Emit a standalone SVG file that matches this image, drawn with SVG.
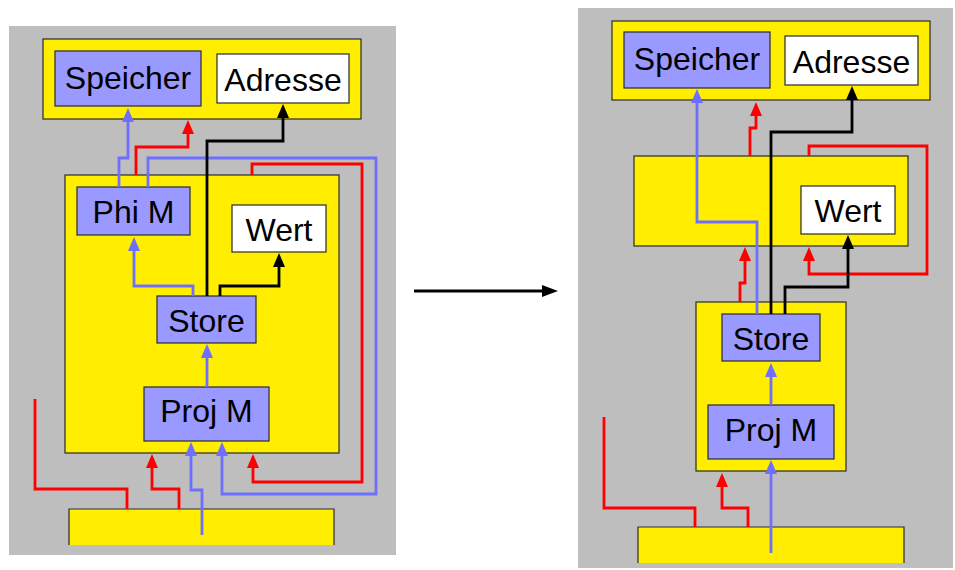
<svg xmlns="http://www.w3.org/2000/svg" width="955" height="570" viewBox="0 0 955 570">
<style>
.bg{fill:#bebebe;stroke:none}
.ybox{fill:#ffee00;stroke:#2a2a2a;stroke-width:1.2}
.yfill{fill:#ffee00;stroke:none}
.yedge{fill:none;stroke:#2a2a2a;stroke-width:1.2}
.bbox{fill:#9999ff;stroke:#2a2a2a;stroke-width:1.2}
.wbox{fill:#ffffff;stroke:#2a2a2a;stroke-width:1.2}
.lbl{font-family:"Liberation Sans",Arial,sans-serif;font-size:32px;fill:#000;text-anchor:middle}
.c{fill:none;stroke-width:2.8;stroke-linejoin:miter}
.red{stroke:#ff0000}
.blue{stroke:#6f6fff}
.blk{stroke:#000000}
.ar-r{marker-end:url(#mr)}
.ar-b{marker-end:url(#mb)}
.ar-k{marker-end:url(#mk)}
</style>
<defs>
<marker id="mr" viewBox="0 0 14 12" refX="10" refY="6" markerWidth="14" markerHeight="12" markerUnits="userSpaceOnUse" orient="auto"><path d="M0,0 L14,6 L0,12 z" fill="#ff0000"/></marker>
<marker id="mb" viewBox="0 0 14 12" refX="10" refY="6" markerWidth="14" markerHeight="12" markerUnits="userSpaceOnUse" orient="auto"><path d="M0,0 L14,6 L0,12 z" fill="#6f6fff"/></marker>
<marker id="mk" viewBox="0 0 14 12" refX="10" refY="6" markerWidth="14" markerHeight="12" markerUnits="userSpaceOnUse" orient="auto"><path d="M0,0 L14,6 L0,12 z" fill="#000000"/></marker>
<marker id="mbig" viewBox="0 0 16 12" refX="5" refY="6" markerWidth="16" markerHeight="12" markerUnits="userSpaceOnUse" orient="auto"><path d="M0,0 L16,6 L0,12 z" fill="#000000"/></marker>
</defs>

<!-- Left panel -->
<rect class="bg" x="9" y="26" width="387" height="529"/>
<g id="L-top">
<rect class="ybox" x="43" y="39" width="318" height="80"/>
</g>
<g id="L-speicher">
<rect class="bbox" x="55" y="51" width="146" height="55"/>
<text class="lbl" x="128" y="89">Speicher</text>
</g>
<g id="L-adresse">
<rect class="wbox" x="217" y="54" width="132" height="49"/>
<text class="lbl" x="283" y="91">Adresse</text>
</g>
<g id="L-mid">
<rect class="ybox" x="65" y="175" width="274" height="278"/>
</g>
<g id="L-phim">
<rect class="bbox" x="77" y="187" width="113" height="48"/>
<text class="lbl" x="133.5" y="223">Phi M</text>
</g>
<g id="L-wert">
<rect class="wbox" x="232" y="205" width="94" height="47"/>
<text class="lbl" x="279" y="240.5">Wert</text>
</g>
<g id="L-store">
<rect class="bbox" x="157" y="296" width="99" height="47"/>
<text class="lbl" x="206.5" y="331.5">Store</text>
</g>
<g id="L-projm">
<rect class="bbox" x="144" y="387" width="125" height="54"/>
<text class="lbl" x="206.5" y="421.5">Proj M</text>
</g>
<g id="L-bottom">
<rect class="yfill" x="69" y="509" width="265" height="36"/>
<path class="yedge" d="M69,545 V509 H334 V545"/>
</g>

<!-- Right panel -->
<rect class="bg" x="578" y="8" width="375" height="560"/>
<g id="R-top">
<rect class="ybox" x="612" y="21" width="318" height="79"/>
</g>
<g id="R-speicher">
<rect class="bbox" x="624" y="32" width="146" height="56"/>
<text class="lbl" x="697" y="70">Speicher</text>
</g>
<g id="R-adresse">
<rect class="wbox" x="785" y="36" width="133" height="49"/>
<text class="lbl" x="851.5" y="73">Adresse</text>
</g>
<g id="R-mid">
<rect class="ybox" x="634" y="156" width="274" height="90"/>
</g>
<g id="R-wert">
<rect class="wbox" x="801" y="186" width="94" height="48"/>
<text class="lbl" x="848" y="221.5">Wert</text>
</g>
<g id="R-lower">
<rect class="ybox" x="696" y="302" width="150" height="169"/>
</g>
<g id="R-store">
<rect class="bbox" x="722" y="314" width="98" height="47"/>
<text class="lbl" x="771" y="350">Store</text>
</g>
<g id="R-projm">
<rect class="bbox" x="708" y="405" width="126" height="54"/>
<text class="lbl" x="771" y="441">Proj M</text>
</g>
<g id="R-bottom">
<rect class="yfill" x="638" y="527" width="266" height="36"/>
<path class="yedge" d="M638,563 V527 H904 V563"/>
</g>

<g id="connectors">
<!-- left -->
<path class="c blue ar-b" d="M119,187 V158 H128 V112"/>
<path class="c red ar-r" d="M136,175 V147 H188 V124"/>
<path class="c blue ar-b" d="M148,187 V158 H376 V494 H222 V446"/>
<path class="c red ar-r" d="M252,175 V164 H362 V482 H253 V458"/>
<path class="c blk ar-k" d="M207,296 V141 H283 V108"/>
<path class="c blk ar-k" d="M220,296 V286 H279 V257"/>
<path class="c blue ar-b" d="M193,296 V286 H134 V241"/>
<path class="c blue ar-b" d="M207,387 V348"/>
<path class="c red" d="M35,399 V489 H127 V509"/>
<path class="c red ar-r" d="M179,509 V489 H152 V458"/>
<path class="c blue ar-b" d="M202,535 V490 H191 V446"/>
<!-- between panels -->
<path class="c blk" style="stroke-width:3" d="M414,291 H547" marker-end="url(#mbig)"/>
<!-- right -->
<path class="c blue ar-b" d="M757,314 V222 H697 V93"/>
<path class="c red ar-r" d="M750,156 V128 H756 V106"/>
<path class="c blk ar-k" d="M771,314 V132 H852 V90"/>
<path class="c red ar-r" d="M809,156 V146 H927 V274 H809 V251"/>
<path class="c blk ar-k" d="M785,314 V287 H848 V239"/>
<path class="c red ar-r" d="M740,302 V283 H745 V251"/>
<path class="c blue ar-b" d="M771,405 V367"/>
<path class="c blue ar-b" d="M771,553 V464"/>
<path class="c red" d="M604,417 V508 H695 V527"/>
<path class="c red ar-r" d="M748,527 V508 H722 V477"/>
</g>
</svg>
